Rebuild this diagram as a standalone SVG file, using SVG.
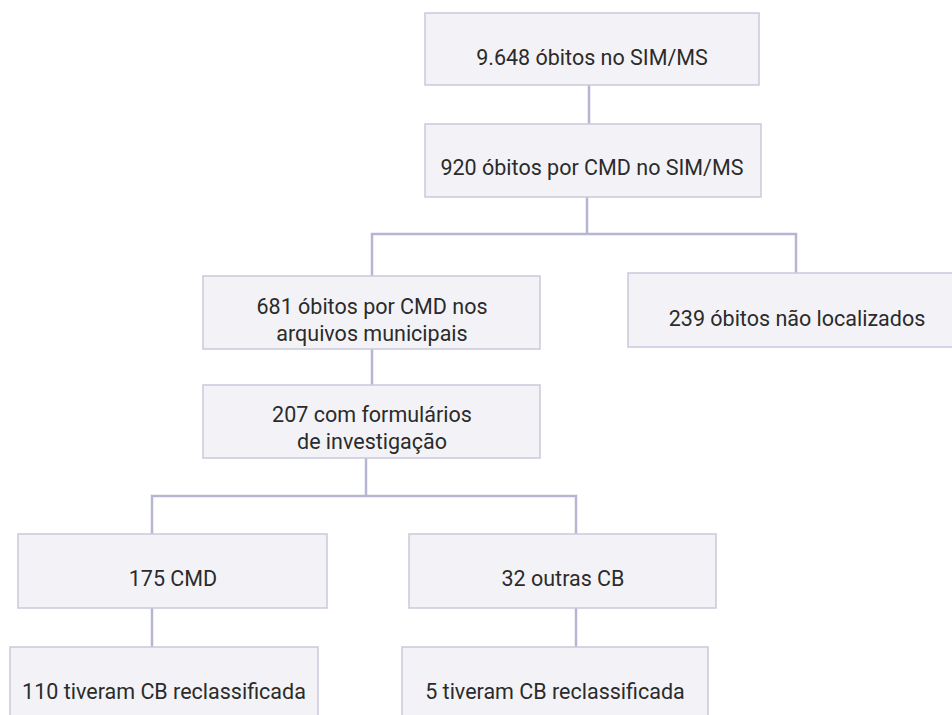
<svg xmlns="http://www.w3.org/2000/svg" width="952" height="715" viewBox="0 0 952 715">
<style>
.box{fill:#f3f3f7;stroke:#c9c9dc;stroke-width:1.5}
.t{font-family:Roboto,"Liberation Sans",sans-serif;font-size:21.5px;fill:#2b2b2b;text-anchor:middle}
.c{fill:none;stroke:#b6b6d4;stroke-width:2.5}
</style>
<rect width="952" height="715" fill="#ffffff"/>
<g id="connectors">
<path class="c" d="M589,85V124"/>
<path class="c" d="M587,197V234M372,276V234H796V273"/>
<path class="c" d="M372,349V385"/>
<path class="c" d="M366,458V496M152,534V496H576V534"/>
<path class="c" d="M152,608V647"/>
<path class="c" d="M576,608V647"/>
</g>
<g id="n1"><rect class="box" x="425" y="13" width="334" height="72"/><text class="t" x="592" y="65">9.648 óbitos no SIM/MS</text></g>
<g id="n2"><rect class="box" x="425" y="124" width="336" height="73"/><text class="t" x="592" y="175">920 óbitos por CMD no SIM/MS</text></g>
<g id="n3"><rect class="box" x="203" y="276" width="337" height="73"/><text class="t" x="372" y="314">681 óbitos por CMD nos</text><text class="t" x="372" y="341">arquivos municipais</text></g>
<g id="n4"><rect class="box" x="628" y="273" width="340" height="74"/><text class="t" x="797" y="326">239 óbitos não localizados</text></g>
<g id="n5"><rect class="box" x="203" y="385" width="337" height="73"/><text class="t" x="372" y="422">207 com formulários</text><text class="t" x="372" y="449">de investigação</text></g>
<g id="n6"><rect class="box" x="18" y="534" width="309" height="74"/><text class="t" x="173" y="586">175 CMD</text></g>
<g id="n7"><rect class="box" x="409" y="534" width="307" height="74"/><text class="t" x="563" y="586">32 outras CB</text></g>
<g id="n8"><rect class="box" x="10" y="647" width="308" height="90"/><text class="t" x="164" y="699">110 tiveram CB reclassificada</text></g>
<g id="n9"><rect class="box" x="402" y="647" width="306" height="90"/><text class="t" x="555" y="699">5 tiveram CB reclassificada</text></g>
</svg>
